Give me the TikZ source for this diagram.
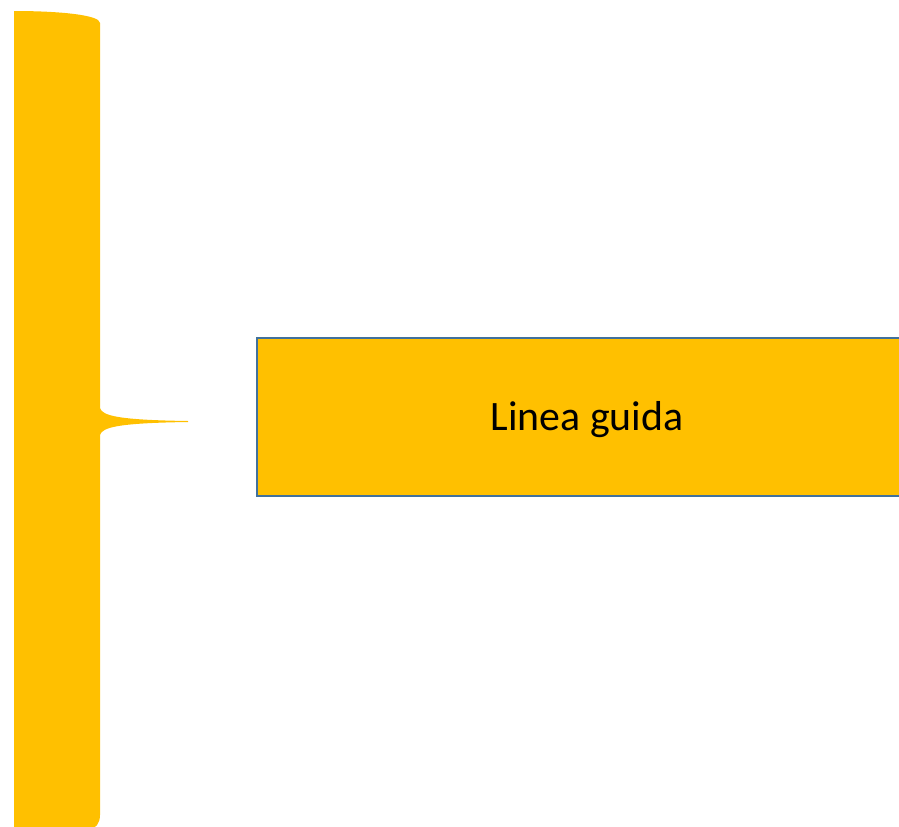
\documentclass[tikz,border=0pt]{standalone}
\usepackage{fontspec}
\setmainfont{Carlito}
\usetikzlibrary{positioning}
\definecolor{guidagold}{HTML}{FFC000}
\definecolor{guidaedge}{HTML}{41719C}

\begin{document}
\begin{tikzpicture}[x=1bp, y=-1bp]
\useasboundingbox (0,0) rectangle (899,827);

\fill [guidagold] (14,11) -- (14,830) -- (88,830) .. controls (96,829) and (100,823) .. (100,815) -- (100,435) .. controls (102,427) and (120,423) .. (188,422) -- (188,421) .. controls (120,420) and (102,416) .. (100,408) -- (100,23) .. controls (100,15) and (60,11) .. (14,11) -- cycle;

\node (guida_box) at (587,417) [draw=guidaedge, line width=2bp, fill=guidagold, minimum width=660bp, minimum height=158bp] {};
\node (guida_text) at (guida_box.center) [yshift=-3bp, font=\fontsize{42}{48}\selectfont] {Linea guida};

\end{tikzpicture}
\end{document}
